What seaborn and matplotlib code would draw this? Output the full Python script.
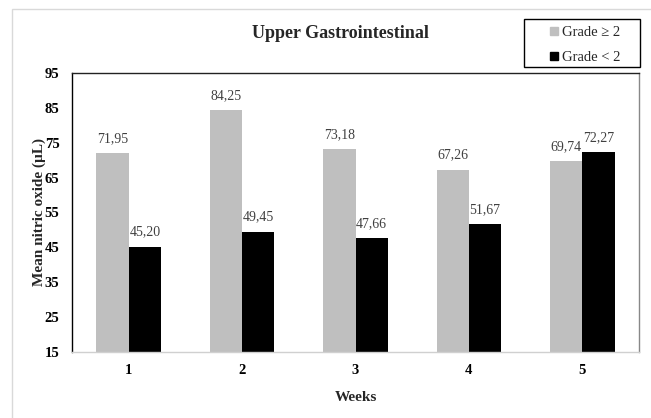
import matplotlib
matplotlib.use("Agg")
import matplotlib.pyplot as plt
from matplotlib.lines import Line2D
from matplotlib.patches import Rectangle
import seaborn as sns
import pandas as pd

weeks = ["1", "2", "3", "4", "5"]
grade_high = [71.95, 84.25, 73.18, 67.26, 69.74]
grade_low = [45.20, 49.45, 47.66, 51.67, 72.27]
series_names = ["Grade \u2265 2", "Grade < 2"]
series_colors = ["#BFBFBF", "#000000"]
y_ticks = [15, 25, 35, 45, 55, 65, 75, 85, 95]

df = pd.DataFrame({
    "Week": weeks * 2,
    "Value": grade_high + grade_low,
    "Grade": [series_names[0]] * len(weeks) + [series_names[1]] * len(weeks),
})

sns.set_theme(style="white")
plt.rcParams["font.family"] = ["Liberation Serif", "DejaVu Serif"]

W, H = 651, 418
fig = plt.figure(figsize=(W / 100, H / 100), dpi=100)
ax = fig.add_axes([72 / W, 1 - 352 / H, (639 - 72) / W, (352 - 73) / H])

# light outer chart border
fig.patches.append(Rectangle((12 / W, -0.02), 1.0, 1 - 9 / H + 0.02,
                             transform=fig.transFigure, fill=False,
                             edgecolor="#D9D9D9", linewidth=1.0))

sns.barplot(data=df, x="Week", y="Value", hue="Grade",
            palette=dict(zip(series_names, series_colors)),
            width=0.57, gap=0, saturation=1, legend=False, ax=ax,
            linewidth=0)

ax.set_ylim(15, 95)
ax.set_xlim(-0.5, 4.5)
ax.set_yticks(y_ticks)
ax.set_yticklabels([str(t) for t in y_ticks], fontweight="bold", fontsize=10.5)
ax.set_xticks(range(len(weeks)))
ax.set_xticklabels(weeks, fontweight="bold", fontsize=10.5)
ax.set_xticks([i - 0.5 for i in range(len(weeks) + 1)], minor=True)
ax.tick_params(axis="x", which="major", length=0, pad=9, colors="black")
ax.tick_params(axis="x", which="minor", length=5, color="#D0D0D0", width=1)
ax.tick_params(axis="y", length=0, pad=9, colors="black")

for side, col in [("left", "#000000"), ("top", "#222222"),
                  ("right", "#888888"), ("bottom", "#D0D0D0")]:
    ax.spines[side].set_visible(True)
    ax.spines[side].set_color(col)
    ax.spines[side].set_linewidth(1.0)

for container in ax.containers:
    labels = [f"{b.get_height():.2f}".replace(".", ",") for b in container]
    ax.bar_label(container, labels=labels, padding=6, fontsize=10,
                 color="#404040")

ax.set_xlabel("Weeks", fontweight="bold", fontsize=11, labelpad=10)
ax.set_ylabel("Mean nitric oxide (\u00b5L)", fontweight="bold", fontsize=11,
              labelpad=-1)

fig.text(340 / W, 1 - 33 / H, "Upper Gastrointestinal", ha="center",
         va="center", fontweight="bold", fontsize=13)

# legend frame drawn separately so the entries sit centred inside it
fig.patches.append(Rectangle((524 / W, 1 - 67 / H), (640 - 524) / W,
                             (67 - 19) / H, transform=fig.transFigure,
                             fill=False, edgecolor="black", linewidth=1.0))
handles = [Line2D([], [], marker="s", linestyle="none", markersize=6,
                  markerfacecolor=c, markeredgecolor=c) for c in series_colors]
leg = ax.legend(handles, series_names, loc="center",
                bbox_to_anchor=(585 / W, 1 - 45 / H),
                bbox_transform=fig.transFigure, frameon=False,
                fontsize=10.5, handlelength=0.6, handletextpad=0.2,
                borderpad=0, labelspacing=0.8, borderaxespad=0)

fig.savefig("out.png", dpi=100)
